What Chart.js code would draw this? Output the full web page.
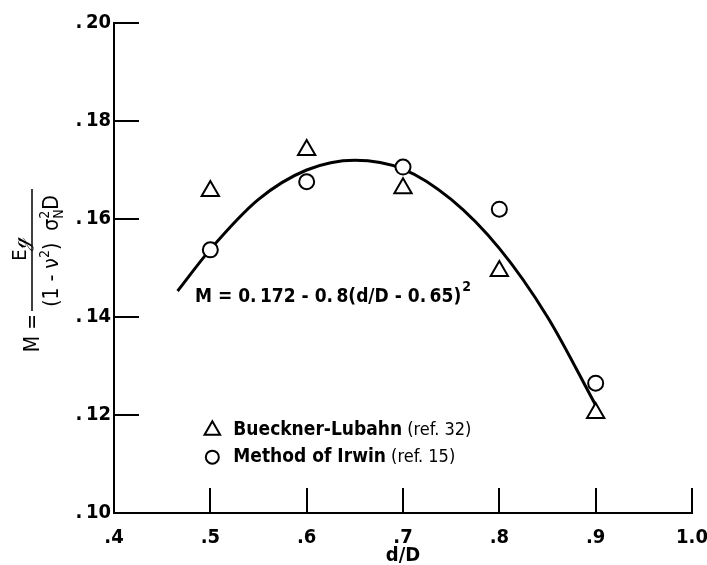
<!DOCTYPE html>
<html>
<head>
<meta charset="utf-8">
<script src="https://cdn.jsdelivr.net/npm/chart.js@4.4.1/dist/chart.umd.min.js"></script>
<style>
  html, body { margin: 0; padding: 0; background: #fff; }
  #wrap { width: 707px; height: 565px; }
</style>
</head>
<body>
<div id="wrap"><canvas id="chart" width="707" height="565"></canvas></div>
<script>
// values
const xTicks = [0.4, 0.5, 0.6, 0.7, 0.8, 0.9, 1.0];
const yTicks = [0.10, 0.12, 0.14, 0.16, 0.18, 0.20];
const ratio = [0.5, 0.6, 0.7, 0.8, 0.9];
const bueckner = [0.1657, 0.1741, 0.1663, 0.1494, 0.1204];
const irwin = [0.1537, 0.1676, 0.1706, 0.1620, 0.1265];
const curveX = [0.466, 0.5, 0.55, 0.6, 0.65, 0.7, 0.75, 0.8, 0.85, 0.9];
const curveY = [0.1453, 0.1538, 0.1640, 0.1700, 0.1720, 0.1702, 0.1640, 0.1540, 0.1400, 0.1220];
const seriesNames = ['Bueckner-Lubahn', 'Method of Irwin'];
const seriesRefs = [' (ref. 32)', ' (ref. 15)'];

const FONT = '"Liberation Sans Narrow", "DejaVu Sans Condensed", "Liberation Sans", sans-serif';
const SERIF = '"DejaVu Sans Condensed", "DejaVu Sans", sans-serif';

const toPts = (xs, ys) => xs.map((x, i) => ({ x: x, y: ys[i] }));

// short tick marks pointing into the plot
const innerTicks = {
    id: 'innerTicks',
    beforeDatasetsDraw(chart) {
        const ctx = chart.ctx;
        const { x, y } = chart.scales;
        ctx.save();
        ctx.strokeStyle = '#000';
        ctx.lineWidth = 2;
        ctx.beginPath();
        x.ticks.forEach(t => {
            const px = Math.round(x.getPixelForValue(t.value));
            ctx.moveTo(px, y.bottom);
            ctx.lineTo(px, y.bottom - 25);
        });
        y.ticks.forEach(t => {
            const py = Math.round(y.getPixelForValue(t.value));
            ctx.moveTo(x.left, py);
            ctx.lineTo(x.left + 25, py);
        });
        ctx.stroke();
        ctx.restore();
    }
};

// rotated fraction used as the y axis title
const yTitle = {
    id: 'yTitle',
    afterDraw(chart) {
        const ctx = chart.ctx;
        ctx.save();
        ctx.translate(0, 565);
        ctx.rotate(-Math.PI / 2);
        ctx.fillStyle = '#000';
        ctx.strokeStyle = '#000';

        ctx.font = '21px ' + SERIF;
        ctx.textAlign = 'right';
        ctx.textBaseline = 'alphabetic';
        ctx.fillText('M =', 251, 39);

        const mid = 314;
        ctx.lineWidth = 1.5;
        ctx.beginPath();
        ctx.moveTo(254, 32);
        ctx.lineTo(376, 32);
        ctx.stroke();

        ctx.textAlign = 'center';
        ctx.font = '20px ' + SERIF;
        ctx.fillText('E\u210A', mid + 2, 26);

        // denominator pieces
        const big = '21px ' + SERIF, small = '14px ' + SERIF;
        const parts = [
            { t: '(1 - \u03BD', f: big, dy: 0 },
            { t: '2', f: small, dy: -9 },
            { t: ')  \u03C3', f: big, dy: 0 },
            { t: '2', f: small, dy: -9, stack: 'N' },
            { t: 'D', f: big, dy: 0 }
        ];
        let total = 0;
        parts.forEach(p => { ctx.font = p.f; p.w = ctx.measureText(p.t).width + (p.stack ? 1 : 0); total += p.w; });
        let u = mid - total / 2;
        ctx.textAlign = 'left';
        parts.forEach(p => {
            ctx.font = p.f;
            ctx.fillText(p.t, u, 58 + p.dy);
            if (p.stack) ctx.fillText(p.stack, u, 63);
            u += p.w;
        });
        ctx.restore();
    }
};

// equation label and legend drawn inside the plot
const notes = {
    id: 'notes',
    afterDraw(chart) {
        const ctx = chart.ctx;
        const { x, y } = chart.scales;
        ctx.save();
        ctx.fillStyle = '#000';
        ctx.textBaseline = 'middle';
        ctx.textAlign = 'left';

        // equation
        let ex = x.getPixelForValue(0.484), ey = y.getPixelForValue(0.1441);
        ctx.font = 'bold 19px ' + FONT;
        const eq = 'M = 0.\u2009172 - 0.\u20098(d/D - 0.\u200965)';
        ctx.fillText(eq, ex, ey);
        const w = ctx.measureText(eq).width;
        ctx.font = 'bold 14px ' + FONT;
        ctx.fillText('2', ex + w + 1, ey - 10);

        // legend
        const lx = x.getPixelForValue(0.5) + 2;
        const rows = [y.getPixelForValue(0.1169), y.getPixelForValue(0.1114)];
        const styles = [{ pointStyle: 'triangle', radius: 9 }, { pointStyle: 'circle', radius: 6.5 }];
        rows.forEach((ly, i) => {
            ctx.fillStyle = '#fff';
            ctx.strokeStyle = '#000';
            ctx.lineWidth = 2;
            Chart.helpers.drawPoint(ctx, { pointStyle: styles[i].pointStyle, radius: styles[i].radius, borderWidth: 2, rotation: 0 }, lx, ly);
            ctx.fillStyle = '#000';
            ctx.font = 'bold 19px ' + FONT;
            ctx.fillText(seriesNames[i], lx + 21, ly);
            const nw = ctx.measureText(seriesNames[i]).width;
            ctx.font = '18px ' + FONT;
            ctx.fillText(seriesRefs[i], lx + 21 + nw, ly);
        });
        ctx.restore();
    }
};

const noPad = s => { s.paddingLeft = 0; s.paddingRight = 0; s.paddingTop = 0; s.paddingBottom = 0; };

new Chart(document.getElementById('chart'), {
    type: 'scatter',
    data: {
        datasets: [
            {
                label: seriesNames[0],
                data: toPts(ratio, bueckner),
                pointStyle: 'triangle',
                pointRadius: 10,
                borderWidth: 2,
                borderColor: '#000',
                backgroundColor: '#fff',
                order: 0
            },
            {
                label: seriesNames[1],
                data: toPts(ratio, irwin),
                pointStyle: 'circle',
                pointRadius: 7.5,
                borderWidth: 2,
                borderColor: '#000',
                backgroundColor: '#fff',
                order: 1
            },
            {
                type: 'line',
                label: 'fit',
                data: toPts(curveX, curveY),
                showLine: true,
                borderColor: '#000',
                borderWidth: 3,
                pointRadius: 0,
                cubicInterpolationMode: 'monotone',
                fill: false,
                order: 2
            }
        ]
    },
    options: {
        responsive: false,
        animation: false,
        devicePixelRatio: 1,
        layout: { padding: { top: 23, right: 15, left: 0, bottom: 0 } },
        plugins: {
            legend: { display: false },
            tooltip: { enabled: false }
        },
        scales: {
            x: {
                type: 'linear',
                min: 0.4,
                max: 1.0,
                afterBuildTicks: s => { s.ticks = xTicks.map(v => ({ value: v })); },
                afterFit: s => { s.height = 52; noPad(s); },
                grid: { display: false, drawTicks: false },
                border: { display: true, color: '#000', width: 2 },
                ticks: {
                    color: '#000',
                    padding: 14,
                    maxRotation: 0,
                    font: { family: FONT, size: 20, weight: 'bold', lineHeight: 1.1 },
                    callback: v => v >= 0.99 ? '1.0' : '.' + Math.round(v * 10)
                },
                title: {
                    display: true,
                    text: 'd/D',
                    color: '#000',
                    padding: { top: 0, bottom: 0 },
                    font: { family: FONT, size: 20, weight: 'bold', lineHeight: 0.9 }
                }
            },
            y: {
                type: 'linear',
                min: 0.10,
                max: 0.20,
                afterBuildTicks: s => { s.ticks = yTicks.map(v => ({ value: v })); },
                afterFit: s => { s.width = 114; noPad(s); },
                grid: { display: false, drawTicks: false },
                border: { display: true, color: '#000', width: 2 },
                ticks: {
                    color: '#000',
                    padding: 3,
                    font: { family: FONT, size: 20, weight: 'bold' },
                    callback: v => '.\u2009' + Math.round(v * 100)
                }
            }
        }
    },
    plugins: [innerTicks, yTitle, notes]
});
</script>
</body>
</html>
